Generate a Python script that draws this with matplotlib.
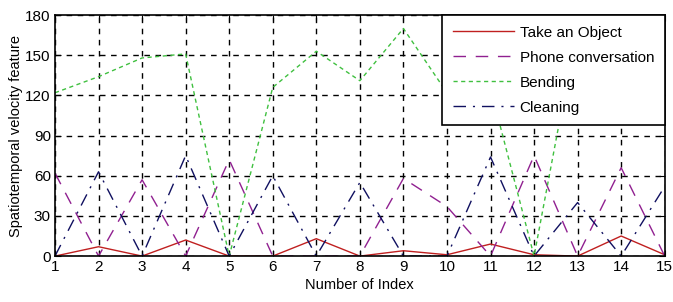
import numpy as np
import matplotlib
matplotlib.use("Agg")
import matplotlib.pyplot as plt

plt.rcParams['font.family'] = ['Liberation Sans', 'DejaVu Sans']

# data
idx = list(range(1, 16))
take_object = [0, 7, 0, 12, 0, 0, 13, 0, 4, 1, 9, 1, 0, 15, 1]
phone_conv = [62, 0, 57, 0, 72, 0, 0, 0, 58, 37, 0, 75, 0, 66, 0]
bending = [122, 134, 148, 151, 0, 126, 153, 131, 170, 122, 125, 0, 172, 150, 140]
cleaning = [0, 63, 0, 75, 0, 60, 0, 55, 0, 0, 74, 0, 40, 0, 52]

x_ticks = list(range(1, 16))
y_ticks = [0, 30, 60, 90, 120, 150, 180]

fig = plt.figure(figsize=(6.73, 3.02), dpi=100)
ax = fig.add_axes([0.0817, 0.152, 0.906, 0.798])

ax.plot(idx, take_object, color="#c02020", lw=1.0, ls="-", label="Take an Object")
ax.plot(idx, phone_conv, color="#902090", lw=1.0, ls=(0, (9, 7)), label="Phone conversation")
ax.plot(idx, bending, color="#40c040", lw=1.0, ls=(0, (3, 2.5)), label="Bending")
ax.plot(idx, cleaning, color="#101060", lw=1.0, ls=(0, (9, 5, 1.5, 5)), label="Cleaning")

ax.set_xlim(1, 15)
ax.set_ylim(0, 180)
ax.set_xticks(x_ticks)
ax.set_yticks(y_ticks)
ax.grid(True, color="black", ls=(0, (4, 4)), lw=1.0)
ax.tick_params(direction="in", top=True, right=True, labelsize=11, length=4, pad=3)
for sp in ax.spines.values():
    sp.set_linewidth(1.2)

ax.set_xlabel("Number of Index", fontsize=10.5, labelpad=3)
ax.set_ylabel("Spatiotemporal velocity feature", fontsize=10.5, labelpad=2)

leg = ax.legend(loc="upper right", fancybox=False, framealpha=1, edgecolor="black",
                borderaxespad=0, fontsize=11, labelspacing=0.72, handlelength=4.0,
                handletextpad=0.35, borderpad=0.7)
leg.get_frame().set_linewidth(1.2)

fig.savefig("out.png", dpi=100)
